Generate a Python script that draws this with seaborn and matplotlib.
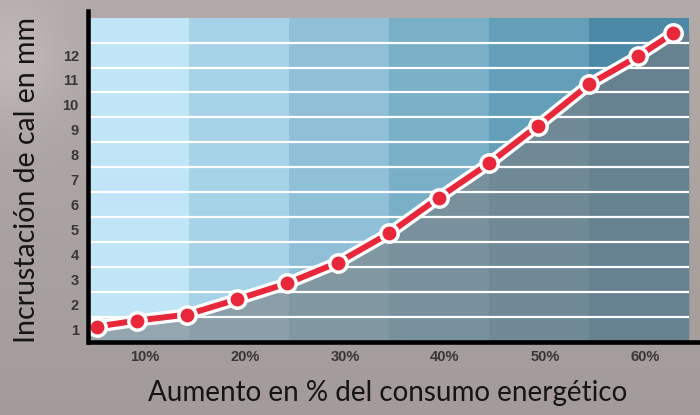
import numpy as np
import matplotlib
matplotlib.use('Agg')
import matplotlib.pyplot as plt
import matplotlib.patheffects as pe
import seaborn as sns

# Data
pct_increase = [5.2, 9.2, 14.2, 19.2, 24.2, 29.3, 34.4, 39.4, 44.4, 49.3, 54.4, 59.3, 62.8]
scale_mm = [1.10, 1.34, 1.58, 2.19, 2.83, 3.67, 4.84, 6.28, 7.65, 9.17, 10.82, 11.95, 12.87]
x_ticks = [10, 20, 30, 40, 50, 60]
x_tick_labels = ['10%', '20%', '30%', '40%', '50%', '60%']
y_ticks = list(range(1, 13))
band_edges = [4.35, 14.4, 24.4, 34.4, 44.4, 54.4, 64.4]
band_colors = ['#c0e5f6', '#a7d3e8', '#8fc0d7', '#79b0c8', '#639fb9', '#4c89a7']

sns.set_style('white')
plt.rcParams['font.family'] = ['Lato', 'DejaVu Sans']

fig = plt.figure(figsize=(7, 4.15), dpi=100)

# photo-like grey background
bg = fig.add_axes([0, 0, 1, 1])
yy, xx = np.mgrid[0:1:200j, 0:1:300j]
base = np.array([171, 163, 161]) / 255
shade = 0.03 * (1 - yy) - 0.03 * yy + 0.06 * np.exp(-((xx - 0.02) ** 2 / 0.004 + (yy - 0.15) ** 2 / 0.02))
img = np.clip(base[None, None, :] + shade[..., None], 0, 1)
bg.imshow(img, aspect='auto', extent=[0, 1, 0, 1])
bg.axis('off')

ax = fig.add_axes([88.5 / 700, (415 - 341.5) / 415, (698 - 88.5) / 700, (341.5 - 11) / 415])
ax.patch.set_alpha(0)
ax.set_xlim(4.35, 65.3)
ax.set_ylim(0.5, 13.77)

# coloured vertical bands
for i, c in enumerate(band_colors):
    ax.fill_between([band_edges[i], band_edges[i + 1]], 0.5, 13.5, color=c, lw=0, zorder=0)

# grey area under the curve
fx = [band_edges[0]] + pct_increase + [band_edges[-1]]
fy = [scale_mm[0]] + scale_mm + [scale_mm[-1]]
ax.fill_between(fx, 0.5, fy, color='#787d80', alpha=0.6, lw=0, zorder=1)

# white grid lines between labels
ax.hlines([v + 0.5 for v in y_ticks], band_edges[0], band_edges[-1], color='white', lw=1.6, zorder=2)

sns.lineplot(x=pct_increase, y=scale_mm, ax=ax, color='#e8273a', lw=4.3, zorder=3,
             path_effects=[pe.Stroke(linewidth=9, foreground='white'), pe.Normal()])
sns.scatterplot(x=pct_increase, y=scale_mm, ax=ax, color='#e8273a', s=12.5 ** 2,
                edgecolor='white', linewidth=2.5, zorder=4)

for s in ['top', 'right']:
    ax.spines[s].set_visible(False)
for s in ['left', 'bottom']:
    ax.spines[s].set_linewidth(3.3)
    ax.spines[s].set_color('black')
    ax.spines[s].set_zorder(5)

ax.set_xticks(x_ticks)
ax.set_xticklabels(x_tick_labels)
ax.set_yticks(y_ticks)
ax.tick_params(length=0)
ax.tick_params(axis='x', pad=6)
ax.tick_params(axis='y', pad=7)
for lab in ax.get_xticklabels() + ax.get_yticklabels():
    lab.set_fontfamily('Liberation Sans')
    lab.set_fontweight('bold')
    lab.set_fontsize(10.5)
    lab.set_color('#3a3636')

fig.text(27 / 700, 1 - 180 / 415, 'Incrustación de cal en mm', rotation=90,
         ha='center', va='center', fontsize=20.5, color='#151515')
fig.text(388 / 700, 1 - 393 / 415, 'Aumento en % del consumo energético',
         ha='center', va='center', fontsize=20, color='#151515')

fig.savefig('out.png', dpi=100)
